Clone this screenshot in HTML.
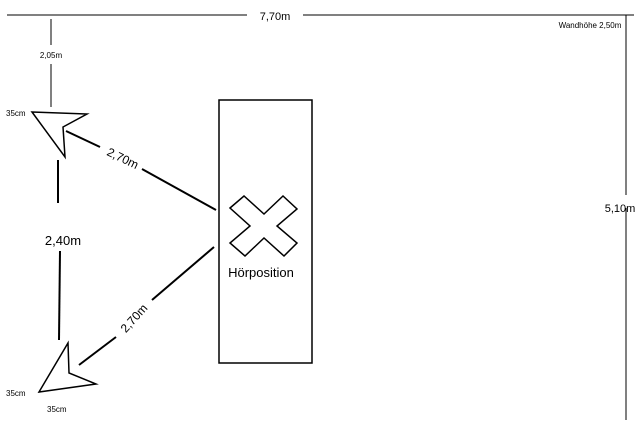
<!DOCTYPE html>
<html><head><meta charset="utf-8"><style>
html,body{margin:0;padding:0;background:#fff;}
svg{display:block;font-family:"Liberation Sans","DejaVu Sans",sans-serif;}
</style></head><body>
<svg width="640" height="423" viewBox="0 0 640 423" xmlns="http://www.w3.org/2000/svg">
<g stroke="#000" fill="none">
<line x1="7" y1="15" x2="247" y2="15" stroke-width="1"/>
<line x1="303" y1="15" x2="634" y2="15" stroke-width="1"/>
<line x1="626" y1="15" x2="626" y2="195" stroke-width="1"/>
<line x1="626" y1="208" x2="626" y2="420" stroke-width="1"/>
<line x1="51" y1="19" x2="51" y2="45" stroke-width="1"/>
<line x1="51" y1="64" x2="51" y2="107" stroke-width="1"/>
<polygon points="32,112 87,114 63,127 65,157" stroke-width="1.5"/>
<polygon points="68,343 69,373 96,384 39,392" stroke-width="1.5"/>
<line x1="66" y1="131" x2="100" y2="147" stroke-width="2"/>
<line x1="142" y1="169" x2="216" y2="210" stroke-width="2"/>
<line x1="214" y1="247" x2="152" y2="300" stroke-width="2"/>
<line x1="116" y1="337" x2="79" y2="365" stroke-width="2"/>
<line x1="58" y1="160" x2="58" y2="203" stroke-width="2"/>
<line x1="60" y1="251" x2="59" y2="340" stroke-width="2"/>
<rect x="219" y="100" width="93" height="263" stroke-width="1.5"/>
<polygon points="230,208 244,196 264,214 283,196 297,209 277,226 297,243 284,256 264,238 245,256 230,243 250,226" stroke-width="1.5"/>
</g>
<g fill="#000">
<text x="275" y="20" font-size="11" text-anchor="middle">7,70m</text>
<text x="51" y="58" font-size="8" text-anchor="middle">2,05m</text>
<text x="6" y="116" font-size="8">35cm</text>
<text x="6" y="396" font-size="8">35cm</text>
<text x="47" y="412" font-size="8">35cm</text>
<text x="590" y="28" font-size="8" text-anchor="middle">Wandhöhe 2,50m</text>
<text x="620" y="212" font-size="11" text-anchor="middle">5,10m</text>
<text x="63" y="245" font-size="13" text-anchor="middle">2,40m</text>
<text x="261" y="277" font-size="13" text-anchor="middle">Hörposition</text>
<text x="0" y="0" font-size="12" text-anchor="middle" transform="translate(121,162) rotate(26)">2,70m</text>
<text x="0" y="0" font-size="12" text-anchor="middle" transform="translate(137,321) rotate(-48)">2,70m</text>
</g>
</svg>
</body></html>
